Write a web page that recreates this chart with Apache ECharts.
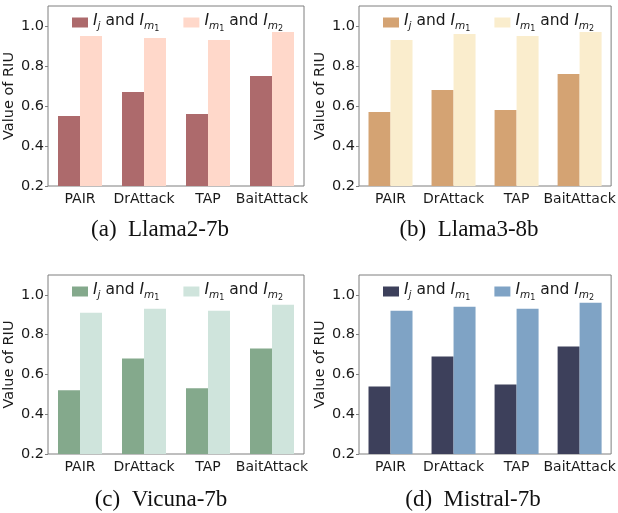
<!DOCTYPE html>
<html>
<head>
<meta charset="utf-8">
<script src="https://cdn.jsdelivr.net/npm/echarts@6/dist/echarts.min.js"></script>
<style>
  html, body { margin: 0; padding: 0; background: #fff; }
  #main { width: 618px; height: 513px; }
</style>
</head>
<body>
<div id="main"></div>
<script>
var categories = ['PAIR', 'DrAttack', 'TAP', 'BaitAttack'];
var yTicks = [0.2, 0.4, 0.6, 0.8, 1.0];

var llama2Ij = [0.55, 0.67, 0.56, 0.75];
var llama2Im = [0.95, 0.94, 0.93, 0.97];
var llama3Ij = [0.57, 0.68, 0.58, 0.76];
var llama3Im = [0.93, 0.96, 0.95, 0.97];
var vicunaIj = [0.52, 0.68, 0.53, 0.73];
var vicunaIm = [0.91, 0.93, 0.92, 0.95];
var mistralIj = [0.54, 0.69, 0.55, 0.74];
var mistralIm = [0.92, 0.94, 0.93, 0.96];

var captions = ['(a)  Llama2-7b', '(b)  Llama3-8b', '(c)  Vicuna-7b', '(d)  Mistral-7b'];

var panels = [
  { ij: llama2Ij, im: llama2Im, colors: ['#AD6A6C', '#FFD8CA'], left: 48, top: 6, width: 256, height: 180, cap: [160, 230] },
  { ij: llama3Ij, im: llama3Im, colors: ['#D4A373', '#FAEDCD'], left: 359, top: 6, width: 258, height: 180, cap: [469, 230] },
  { ij: vicunaIj, im: vicunaIm, colors: ['#84A98C', '#CFE4DC'], left: 48, top: 275, width: 256, height: 179, cap: [161, 500] },
  { ij: mistralIj, im: mistralIm, colors: ['#3D405B', '#7FA3C5'], left: 359, top: 275, width: 258, height: 179, cap: [473, 500] }
];

var font = 'DejaVu Sans';
var grids = [], xAxes = [], yAxes = [], legends = [], series = [], graphics = [];

panels.forEach(function (p, i) {
  grids.push({
    left: p.left, top: p.top, width: p.width, height: p.height,
    show: true, borderColor: '#7f7f7f', borderWidth: 1, backgroundColor: 'transparent'
  });
  xAxes.push({
    type: 'category', gridIndex: i, data: categories,
    axisLine: { show: false }, axisTick: { show: false },
    axisLabel: { color: '#1a1a1a', fontFamily: font, fontSize: 14, margin: 6, interval: 0 }
  });
  yAxes.push({
    type: 'value', gridIndex: i, min: 0.2, max: 1.1, interval: 0.2,
    name: 'Value of RIU', nameLocation: 'middle', nameGap: 25,
    nameTextStyle: { color: '#1a1a1a', fontFamily: font, fontSize: 14.5 },
    axisLine: { show: false },
    axisTick: { show: true, length: 3, lineStyle: { color: '#7f7f7f' }, customValues: yTicks },
    axisLabel: { color: '#1a1a1a', fontFamily: font, fontSize: 14.5, margin: 4, customValues: yTicks,
      formatter: function (v) { return v.toFixed(1); } },
    splitLine: { show: false }
  });
  var n1 = 'ij' + i, n2 = 'im' + i;
  legends.push({
    data: [n1, n2], left: p.left + 19, top: p.top + 2,
    itemWidth: 16, itemHeight: 10, itemGap: 24, icon: 'rect',
    formatter: function (name) {
      if (name.indexOf('ij') === 0) return '{it|I}{sb|j}{t| and }{it|I}{sb|m}{ss|1}';
      return '{it|I}{sb|m}{ss|1}{t| and }{it|I}{sb|m}{ss|2}';
    },
    textStyle: {
      fontFamily: font, color: '#1a1a1a',
      rich: {
        it: { fontStyle: 'italic', fontSize: 15.5, fontFamily: font, verticalAlign: 'bottom', padding: [0, 0, 3, 0] },
        t: { fontSize: 15.5, fontFamily: font, verticalAlign: 'bottom', padding: [0, 0, 3, 0] },
        sb: { fontStyle: 'italic', fontSize: 10.5, fontFamily: font, verticalAlign: 'bottom', padding: [0, 0, 0, 0] },
        ss: { fontSize: 8, fontFamily: font, verticalAlign: 'bottom', padding: [0, 0, -1, 0] }
      }
    }
  });
  series.push({
    name: n1, type: 'bar', xAxisIndex: i, yAxisIndex: i, data: p.ij,
    barWidth: 22, barGap: '0%', itemStyle: { color: p.colors[0] }
  });
  series.push({
    name: n2, type: 'bar', xAxisIndex: i, yAxisIndex: i, data: p.im,
    barWidth: 22, barGap: '0%', itemStyle: { color: p.colors[1] }
  });
  graphics.push({
    type: 'text', x: p.cap[0], y: p.cap[1],
    style: {
      text: captions[i], fill: '#111', textAlign: 'center', textVerticalAlign: 'middle',
      font: '23px "Liberation Serif", "Times New Roman", serif'
    }
  });
});

var myChart = echarts.init(document.getElementById('main'));
myChart.setOption({
  animation: false,
  backgroundColor: '#fff',
  grid: grids,
  xAxis: xAxes,
  yAxis: yAxes,
  legend: legends,
  series: series,
  graphic: graphics
});
</script>
</body>
</html>
